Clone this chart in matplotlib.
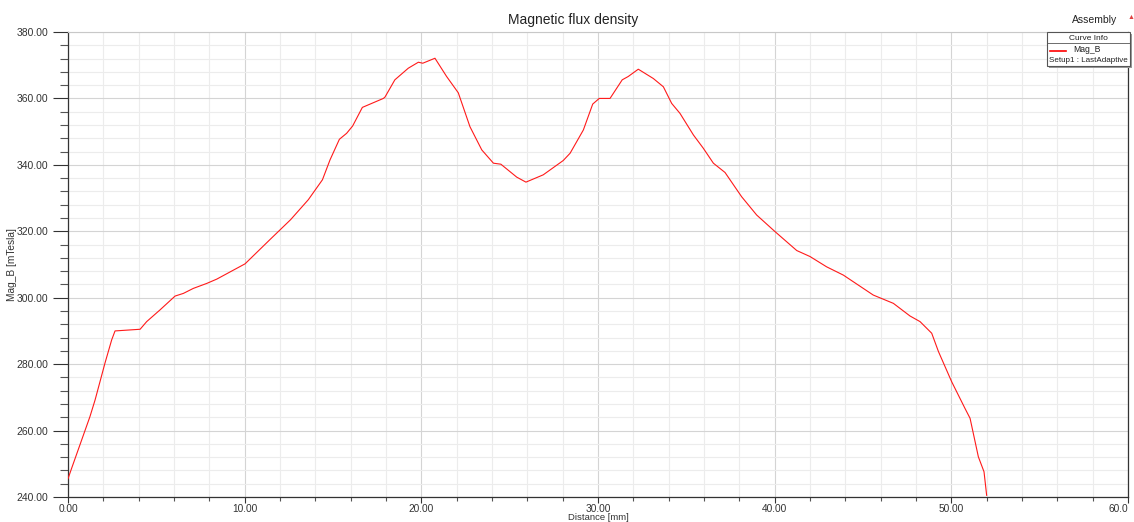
import numpy as np
import matplotlib.pyplot as plt
from matplotlib.patches import Rectangle
from matplotlib.lines import Line2D
from matplotlib.ticker import MultipleLocator, FormatStrFormatter

plt.rcParams['font.family'] = ['Liberation Sans', 'DejaVu Sans']

# distance along the line [mm]
distance = [0.0, 0.07, 0.2, 1.24, 1.53, 2.09, 2.47, 2.66, 4.08, 4.45, 5.2, 6.06, 6.53,
            7.09, 7.85, 8.42, 10.02, 11.43, 12.6, 13.6, 14.4, 14.83, 15.36, 15.77, 16.11,
            16.66, 17.85, 17.94, 18.5, 19.26, 19.83, 20.08, 20.77, 21.43, 22.09, 22.75,
            23.42, 24.08, 24.5, 25.4, 25.92, 26.9, 28.03, 28.42, 29.17, 29.7, 30.07, 30.68,
            31.37, 31.71, 32.28, 33.13, 33.7, 34.17, 34.64, 35.4, 35.96, 36.53, 37.19,
            38.13, 38.98, 40.02, 41.25, 42.0, 42.94, 43.89, 45.58, 46.72, 47.66, 48.23,
            48.89, 49.27, 50.02, 50.77, 51.06, 51.53, 51.85, 52.0]
# magnitude of B [mTesla]
mag_b = [245.5, 246.6, 248.6, 264.2, 269.2, 280.3, 287.3, 290.0, 290.5, 292.8, 296.3,
         300.5, 301.3, 302.8, 304.3, 305.6, 310.2, 317.5, 323.5, 329.5, 335.5, 341.5,
         347.7, 349.5, 351.7, 357.3, 360.0, 360.4, 365.6, 369.1, 370.9, 370.6, 372.1,
         366.6, 361.7, 351.5, 344.5, 340.5, 340.2, 336.3, 334.8, 337.0, 341.3, 343.5,
         350.5, 358.3, 360.0, 360.0, 365.6, 366.6, 368.8, 366.0, 363.5, 358.5, 355.5,
         349.0, 345.0, 340.5, 337.7, 330.4, 324.9, 319.9, 314.2, 312.4, 309.3, 306.8,
         300.8, 298.3, 294.5, 292.8, 289.3, 283.8, 274.7, 266.7, 263.7, 252.1, 247.6,
         240.5]

fig = plt.figure(figsize=(11.34, 5.22), dpi=100)
ax = fig.add_axes([0.06, 0.0479, 0.9347, 0.8908])

ax.plot(distance, mag_b, color='#ff1a1a', lw=0.8, zorder=3)

ax.set_xlim(0, 60)
ax.set_ylim(240, 380)
ax.xaxis.set_major_locator(MultipleLocator(10))
ax.xaxis.set_minor_locator(MultipleLocator(2))
ax.yaxis.set_major_locator(MultipleLocator(20))
ax.yaxis.set_minor_locator(MultipleLocator(4))
ax.yaxis.set_major_formatter(FormatStrFormatter('%.2f'))

# grid: light minor lines, slightly darker major ones
ax.grid(which='minor', color='#ececec', lw=0.8)
ax.grid(which='major', color='#d4d4d4', lw=0.8)
ax.set_axisbelow(True)

ax.tick_params(axis='y', which='major', length=11, width=0.8, color='#333333',
               labelsize=7.5, labelcolor='#333333', pad=3)
ax.tick_params(axis='y', which='minor', length=5.5, width=0.8, color='#555555')
ax.tick_params(axis='x', which='major', length=4, width=0.8, color='#333333',
               labelsize=7.3, labelcolor='#333333', pad=0.8)
ax.tick_params(axis='x', which='minor', length=3, width=0.8, color='#555555')

for side in ['left', 'bottom', 'right']:
    ax.spines[side].set_color('#333333')
    ax.spines[side].set_linewidth(0.9)
ax.spines['top'].set_color('#c8c8c8')

# last x label reads 60.0 and sits left of its tick, as in the original
labels = ['%.2f' % v for v in range(0, 60, 10)] + ['60.0']
ax.set_xticks(range(0, 61, 10))
ax.set_xticklabels(labels)
ax.get_xticklabels()[-1].set_horizontalalignment('right')

ax.set_xlabel('Distance [mm]', fontsize=6.8, color='#333333')
ax.xaxis.set_label_coords(0.5, -0.0345)
ax.set_ylabel('Mag_B [mTesla]', fontsize=7.3, color='#333333')
ax.yaxis.set_label_coords(-0.048, 0.5)

fig.text(0.505, 0.962, 'Magnetic flux density', ha='center', va='center',
         fontsize=10, color='#222222')
fig.text(0.965, 0.962, 'Assembly', ha='center', va='center', fontsize=7.5,
         color='#222222')
fig.text(0.997, 0.966, '\u25b2', ha='center', va='center', fontsize=5,
         color='#e04040')

# "Curve Info" box in the upper right corner
bx, by, bw, bh = 1047 / 1134, 1 - 66 / 522, 83 / 1134, 34 / 522
fig.patches.append(Rectangle((bx + 0.0015, by - 0.003), bw, bh, transform=fig.transFigure,
                             facecolor='#9a9a9a', edgecolor='none', zorder=9))
fig.patches.append(Rectangle((bx, by), bw, bh, transform=fig.transFigure,
                             facecolor='white', edgecolor='#555555', lw=0.8, zorder=10))
fig.lines.append(Line2D([bx, bx + bw], [1 - 43 / 522] * 2, transform=fig.transFigure,
                        color='#555555', lw=0.6, zorder=11))
fig.text(bx + bw / 2, 1 - 38 / 522, 'Curve Info', ha='center', va='center',
         fontsize=6, color='#222222', zorder=11)
fig.lines.append(Line2D([1050 / 1134, 1066 / 1134], [1 - 51 / 522] * 2,
                        transform=fig.transFigure, color='#ff0000', lw=1.2, zorder=11))
fig.text(1073 / 1134, 1 - 50 / 522, 'Mag_B', ha='left', va='center', fontsize=6.2,
         color='#222222', zorder=11)
fig.text(1049 / 1134, 1 - 60 / 522, 'Setup1 : LastAdaptive', ha='left', va='center',
         fontsize=5.8, color='#222222', zorder=11)

fig.savefig('out.png', dpi=100)
